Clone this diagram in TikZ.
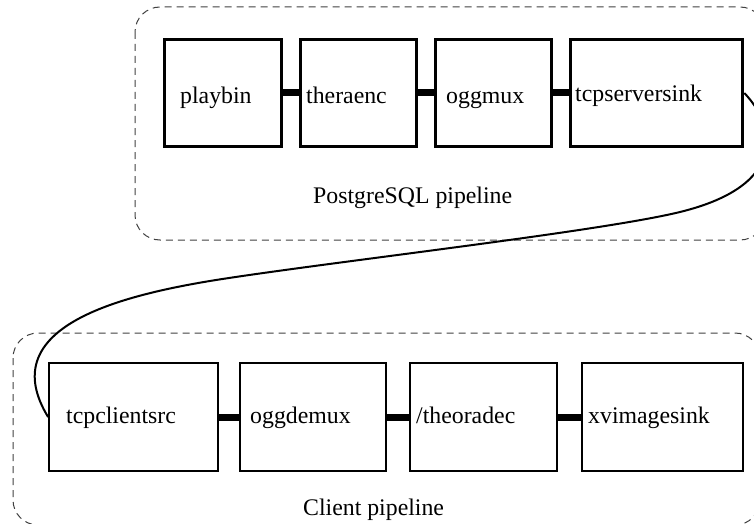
\documentclass[tikz,border=0pt]{standalone}
\usepackage{fontspec}
\setmainfont{Liberation Serif}
\begin{document}
\begin{tikzpicture}[x=1pt,y=-1pt,
  every node/.style={font=\fontsize{23.8}{28}\selectfont},
  topbox/.style={draw, line width=3.6pt, minimum height=107pt, inner sep=0pt},
  botbox/.style={draw, line width=1.8pt, minimum height=108pt, inner sep=0pt},
  lbl/.style={anchor=base west, inner sep=0pt},
  cluster/.style={draw=black!75, line width=1pt, dash pattern=on 7pt off 5pt, rounded corners=25pt},
  pad/.style={line width=7pt},
  link/.style={line width=2pt}]
\useasboundingbox (0,0) rectangle (754,524);
\clip (0,0) rectangle (754,524);
% clusters
\draw[cluster] (135,7) rectangle (765,240);
\draw[cluster] (13,333) rectangle (760,525);
\node[lbl] (pglbl) at (313,203) {PostgreSQL pipeline};
\node[lbl] (cllbl) at (303,515) {Client pipeline};
% top boxes
\node[topbox, minimum width=117pt] (playbin) at (223,93) {};
\node[topbox, minimum width=116pt] (theraenc) at (358.5,93) {};
\node[topbox, minimum width=116pt] (oggmux) at (493.5,93) {};
\node[topbox, minimum width=172pt] (tcpsink) at (656.5,93) {};
\node[lbl] (t1) at (180,103) {playbin};
\node[lbl] (t2) at (306,103) {theraenc};
\node[lbl] (t3) at (446,103) {oggmux};
\node[lbl] (t4) at (575,102) {tcpserversink};
% bottom boxes
\node[botbox, minimum width=169pt] (tcpsrc) at (133.5,417) {};
\node[botbox, minimum width=146pt] (oggdemux) at (313,417) {};
\node[botbox, minimum width=147pt] (theoradec) at (483.5,417) {};
\node[botbox, minimum width=161pt] (xvsink) at (662.5,417) {};
\node[lbl] (b1) at (66,423) {tcpclientsrc};
\node[lbl] (b2) at (250,423) {oggdemux};
\node[lbl] (b3) at (416,423) {/theoradec};
\node[lbl] (b4) at (588,423) {xvimagesink};
% pad links
\draw[pad] (playbin.east) -- (theraenc.west);
\draw[pad] (theraenc.east) -- (oggmux.west);
\draw[pad] (oggmux.east) -- (tcpsink.west);
\draw[pad] (tcpsrc.east) -- (oggdemux.west);
\draw[pad] (oggdemux.east) -- (theoradec.west);
\draw[pad] (theoradec.east) -- (xvsink.west);
% network link
\coordinate (m1) at (680,212);
\coordinate (m2) at (216,280);
\draw[link] (tcpsink.east) .. controls (775,125) and (790,185) .. (m1)
  .. controls (600,231.6) and (330,262) .. (m2)
  .. controls (110,297) and (-5,330) .. (tcpsrc.west);
\end{tikzpicture}
\end{document}
